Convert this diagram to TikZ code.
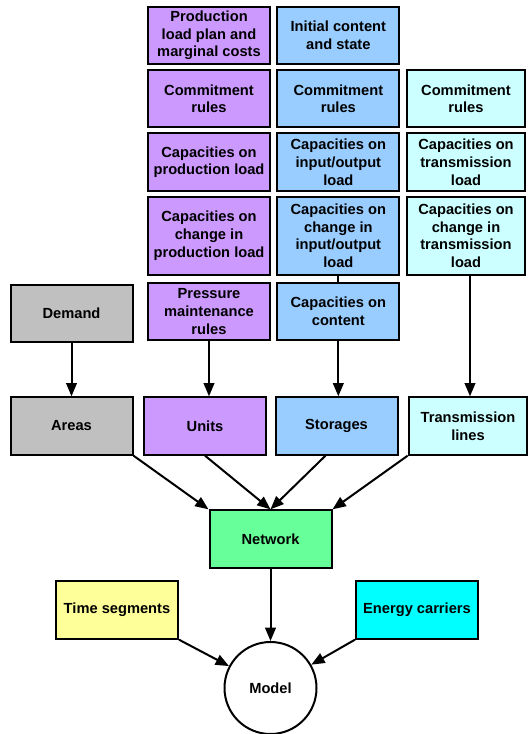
\documentclass[tikz,border=0pt]{standalone}
\usepackage{fontspec}
\setmainfont{Liberation Sans}
\usepackage{xcolor}
\usepackage{tikz}
\usetikzlibrary{arrows.meta, positioning, calc}
\definecolor{unitpurple}{HTML}{CC99FF}
\definecolor{storblue}{HTML}{99CCFF}
\definecolor{transcyan}{HTML}{CCFFFF}
\definecolor{areagray}{HTML}{C0C0C0}
\definecolor{netgreen}{HTML}{66FF99}
\definecolor{timeyellow}{HTML}{FFFF99}
\definecolor{carriercyan}{HTML}{00FFFF}
\tikzstyle{block}  = [rectangle, minimum width=91.5pt, minimum height=43pt,
                      align=center, draw=black, line width=1.5pt, inner sep=1pt,
                      font=\fontsize{11}{13.3}\selectfont\bfseries]
\tikzstyle{tall}   = [minimum height=58.5pt]
\tikzstyle{pblock} = [block, fill=unitpurple]
\tikzstyle{bblock} = [block, fill=storblue]
\tikzstyle{cblock} = [block, fill=transcyan, minimum width=89pt]
\tikzstyle{gblock} = [block, fill=areagray]
\tikzstyle{arrow}  = [-{Triangle[length=10pt, width=8pt]}, line width=1.5pt]

\begin{document}
\begin{tikzpicture}[x=0.75pt, y=-0.75pt, node distance=3pt and 4pt]
  \useasboundingbox (0,0) rectangle (528,734);

  % unit inputs
  \node[pblock] (plan) at (209,35.5)
    {Production\\load plan and\\marginal costs};
  \node[pblock, below=of plan] (pcommit) {Commitment\\rules};
  \node[pblock, below=of pcommit] (pcap) {Capacities on\\production load};
  \node[pblock, tall, below=of pcap] (pchg)
    {Capacities on\\change in\\production load};
  \node[pblock, below=4.5pt of pchg] (pres)
    {Pressure\\maintenance\\rules};

  % storage inputs
  \node[bblock, right=of plan] (binit) {Initial content\\and state};
  \node[bblock, below=of binit] (bcommit) {Commitment\\rules};
  \node[bblock, below=of bcommit] (bcap) {Capacities on\\input/output\\load};
  \node[bblock, tall, below=of bcap] (bchg)
    {Capacities on\\change in\\input/output\\load};
  \node[bblock, below=4.5pt of bchg] (cont) {Capacities on\\content};

  % transmission inputs
  \node[cblock, right=of bcommit] (ccommit) {Commitment\\rules};
  \node[cblock, below=of ccommit] (ccap)
    {Capacities on\\transmission\\load};
  \node[cblock, tall, below=of ccap] (cchg)
    {Capacities on\\change in\\transmission\\load};

  \node[gblock] (demand) at (71.5,313.5) {Demand};

  % network components
  \node[gblock] (areas) at (71.5,426) {Areas};
  \node[pblock] (units) at (205,426) {Units};
  \node[bblock] (stor) at (336.5,426) {Storages};
  \node[cblock] (trans) at (468,426) {Transmission\\lines};

  \node[block, fill=netgreen] (net) at (270.5,539) {Network};
  \node[block, fill=timeyellow] (time) at (117,610) {Time segments};
  \node[block, fill=carriercyan] (carrier) at (417,610) {Energy carriers};
  \node[circle, draw=black, line width=1.5pt, minimum size=69pt,
        font=\fontsize{11}{13.3}\selectfont\bfseries] (model) at (270.5,688) {Model};

  \draw[line width=1.5pt] (bchg) -- (cont);
  \draw[arrow] (demand) -- (areas);
  \draw[arrow] (pres.south) -- (pres.south |- units.north);
  \draw[arrow] (cont.south) -- (cont.south |- stor.north);
  \draw[arrow] ([xshift=3pt]cchg.south) -- ([xshift=3pt]cchg.south |- trans.north);

  \draw[arrow] (areas.south east) -- (net.north west);
  \draw[arrow] (units.south) -- (net.north);
  \draw[arrow] ($(stor.south)+(-11,0)$) -- (net.north);
  \draw[arrow] (trans.south west) -- (net.north east);

  \draw[arrow] (net) -- (model);
  \draw[arrow] (time.south east) -- (model);
  \draw[arrow] (carrier.south west) -- (model);
\end{tikzpicture}
\end{document}
